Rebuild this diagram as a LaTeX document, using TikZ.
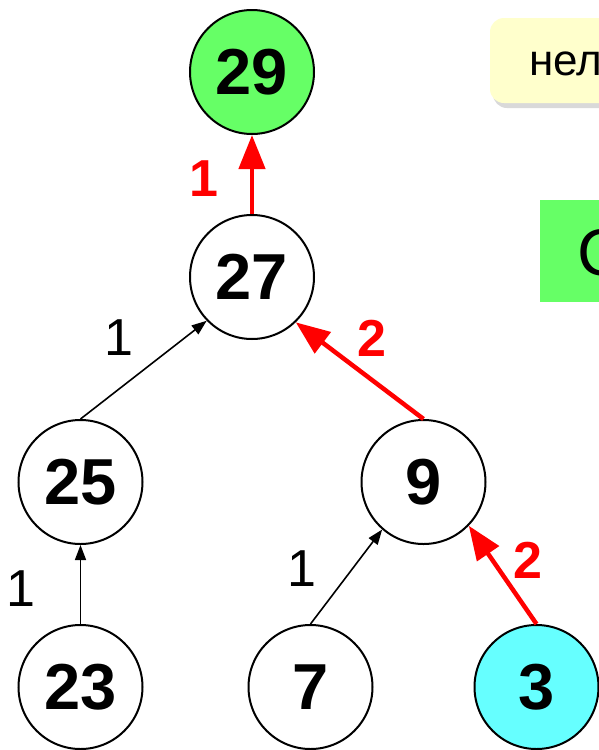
\documentclass[tikz,border=0pt]{standalone}
\usepackage{fontspec}
\setmainfont{Liberation Sans}
\usepackage{tikz}
\usetikzlibrary{arrows.meta,shadows}

\definecolor{rootgreen}{HTML}{66FF66}
\definecolor{leafcyan}{HTML}{66FFFF}
\definecolor{noteyellow}{HTML}{FFFFCC}

\begin{document}
\begin{tikzpicture}[x=1pt, y=-1pt,
    node style/.style={circle, draw, line width=2pt, fill=white, minimum size=124pt, inner sep=0pt,
        font=\fontsize{65}{78}\selectfont\bfseries},
    level distance=205pt,
    level 2/.style={sibling distance=343pt},
    level 3/.style={sibling distance=226pt},
    edge from parent/.style={draw=none},
    thin arrow/.style={-{Triangle[length=15pt, width=11pt]}, line width=1.6pt},
    red arrow/.style={-{Triangle[length=34pt, width=26pt]}, line width=4.5pt, draw=red},
    weight/.style={inner sep=0pt, font=\fontsize{52}{62}\selectfont},
    red weight/.style={inner sep=0pt, text=red, font=\fontsize{52}{62}\selectfont\bfseries}
]
\useasboundingbox (0,0) rectangle (599,750);
\clip (0,0) rectangle (599,750);

% the tree
\node[node style, fill=rootgreen] (n29) at (252,72) {29}
    child { node[node style] (n27) {27}
        child { node[node style] (n25) {25}
            child { node[node style] (n23) {23} }
        }
        child { node[node style] (n9) {9}
            child { node[node style] (n7) {7} }
            child { node[node style, fill=leafcyan] (n3) {3} }
        }
    };

% arrows up to the parents
\draw[red arrow] (n27.north) -- (n29.south);
\draw[thin arrow] (n25.north) -- (n27.224);
\draw[red arrow] (n9.north) -- (n27.314);
\draw[thin arrow] (n23.north) -- (n25.south);
\draw[thin arrow] (n7.north) -- (n9.229);
\draw[red arrow] (n3.north) -- (n9.316);

% weights
\node[red weight] (w29) at (204,179) {1};
\node[weight] (w27l) at (119,338) {1};
\node[red weight] (w27r) at (372,338) {2};
\node[weight] (w25) at (21,589) {1};
\node[weight] (w9l) at (302,569) {1};
\node[red weight] (w9r) at (528,560) {2};

% notes on the right
\fill[noteyellow, rounded corners=14pt, drop shadow={shadow xshift=3pt, shadow yshift=-5pt, opacity=0.3}]
    (490,18) rectangle (720,103);
\node[anchor=base west, inner sep=0pt, font=\fontsize{44}{53}\selectfont] (note) at (529,75) {нел};
\fill[rootgreen] (540,200) rectangle (700,302);
\node[anchor=base west, inner sep=0pt, font=\fontsize{66}{79}\selectfont] (rule) at (577,275) {С};
\end{tikzpicture}
\end{document}
